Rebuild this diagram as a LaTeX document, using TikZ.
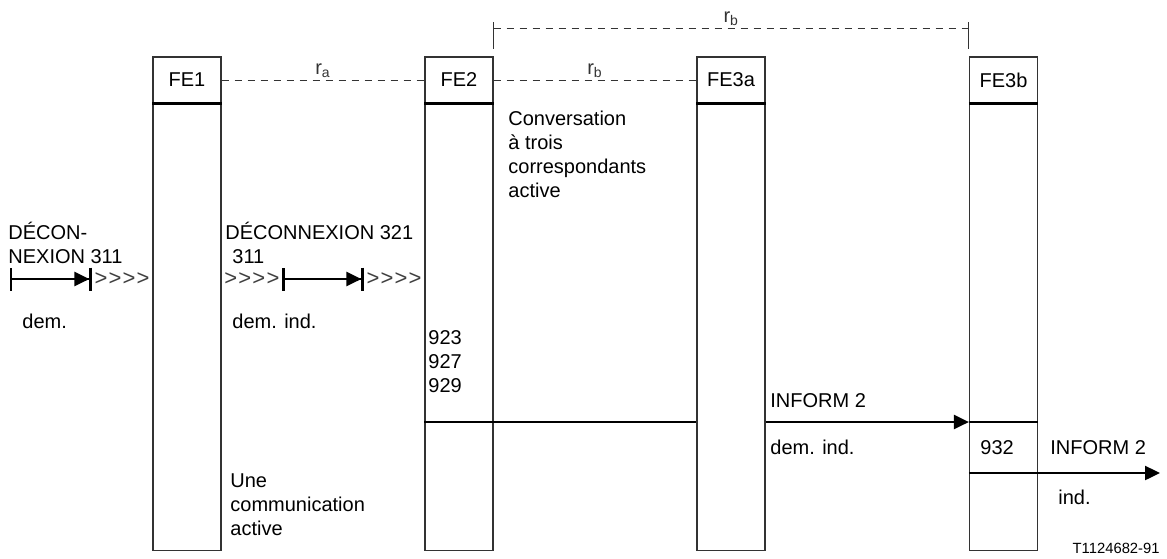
\documentclass[tikz,border=0pt]{standalone}
\usepackage{fontspec}
\setmainfont{Liberation Sans}
\usetikzlibrary{arrows.meta}
\usetikzlibrary{positioning}

\newcommand{\chev}{{\fontsize{11}{12}\selectfont>\kern.6pt{}>\kern.6pt{}>\kern.6pt{}>}}

\tikzset{
  fehead/.style={draw=black!80, line width=.6pt, minimum width=34pt, minimum height=23pt, inner sep=0pt},
  febody/.style={draw=black!80, line width=.6pt, minimum width=34pt, minimum height=223pt, inner sep=0pt},
  sep line/.style={black, line width=1.2pt},
  txt/.style={inner sep=0pt, align=left, anchor=base west},
  gt/.style={inner xsep=1.2pt, inner ysep=0pt, text=black!75},
  rel/.style={black!80, line width=.5pt, dash pattern=on 3.5pt off 3pt},
  sig/.style={line width=1.2pt, {Bar[width=11.5pt,sep=0pt]}-{Triangle[length=7.5pt,width=7pt,sep=0pt]Bar[width=11.5pt,sep=0pt]}},
  msg/.style={line width=1.2pt}
}

\begin{document}
\begin{tikzpicture}[x=.5pt, y=-.5pt, font=\fontsize{10}{12}\selectfont]
\useasboundingbox (0,0) rectangle (1167,558);

% functional entities
\node[fehead] (fe1) at (187,80) {FE1};
\node[fehead] (fe2) at (459,80) {FE2};
\node[fehead] (fe3a) at (731,80) {FE3a};
\node[fehead] (fe3b) at (1003.5,80) {FE3b};
\node[febody, below=0pt of fe1] (fe1b) {};
\node[febody, below=0pt of fe2] (fe2b) {};
\node[febody, below=0pt of fe3a] (fe3ab) {};
\node[febody, below=0pt of fe3b] (fe3bb) {};
\foreach \f in {fe1, fe2, fe3a, fe3b}
  \draw[sep line] (\f.south west) -- (\f.south east);

% relations
\coordinate (top) at (0,28);
\draw[rel] (fe1.east) -- (fe2.west) node[midway, above, inner sep=1pt] {r\textsubscript{a}};
\draw[rel] (fe2.east) -- (fe3a.west) node[midway, above, inner sep=1pt] {r\textsubscript{b}};
\draw[black!80, line width=.5pt] (fe2.east |- 0,22) -- (fe2.east |- 0,49);
\draw[black!80, line width=.5pt] (fe3b.west |- 0,22) -- (fe3b.west |- 0,49);
\draw[rel] (fe2.east |- top) -- (fe3b.west |- top) node[midway, above, inner sep=1pt] {r\textsubscript{b}};

% DECONNEXION
\coordinate (sigy) at (0,279);
\coordinate (s1) at (10,279);
\node[gt, anchor=east] (g1) at (fe1b.west |- sigy) {\chev};
\node[gt, anchor=west] (g2) at (fe1b.east |- sigy) {\chev};
\node[gt, anchor=east] (g3) at (fe2b.west |- sigy) {\chev};
\draw[sig] (s1) -- (g1.west);
\draw[sig] (g2.east) -- (g3.west);

\node[txt] (t1) at (8,263) {DÉCON-\\NEXION 311};
\node[txt] (t2) at (22,328) {dem.};
\node[txt] (t3) at (225,263) {DÉCONNEXION 321\\\hspace*{3.5pt}311};
\node[txt] (t4) at (232,328) {dem. ind.};

% INFORM
\coordinate (m1) at (0,422);
\coordinate (m2) at (0,473);
\coordinate (out) at (1160,473);
\draw[msg] (fe2b.west |- m1) -- (fe3ab.west |- m1);
\draw[msg, -{Triangle[length=7.5pt,width=7pt]}] (fe3ab.east |- m1) -- (fe3bb.west |- m1);
\draw[msg] (fe3bb.west |- m1) -- (fe3bb.east |- m1);
\draw[msg, -{Triangle[length=7.5pt,width=7pt]}] (fe3bb.west |- m2) -- (out);

\node[txt] (t5) at (508,197) {Conversation\\à trois\\correspondants\\active};
\node[txt] (t6) at (428,392) {923\\927\\929};
\node[txt] (t7) at (770,407) {INFORM 2};
\node[txt] (t8) at (770,454) {dem. ind.};
\node[txt] (t9) at (980,454) {932};
\node[txt] (t10) at (1050,454) {INFORM 2};
\node[txt] (t11) at (1058,504) {ind.};
\node[txt] (t12) at (230,535) {Une\\communication\\active};
\node[inner sep=0pt, anchor=base east, font=\fontsize{7.4}{9}\selectfont] (ref) at (1160,553) {T1124682-91};

\end{tikzpicture}
\end{document}
